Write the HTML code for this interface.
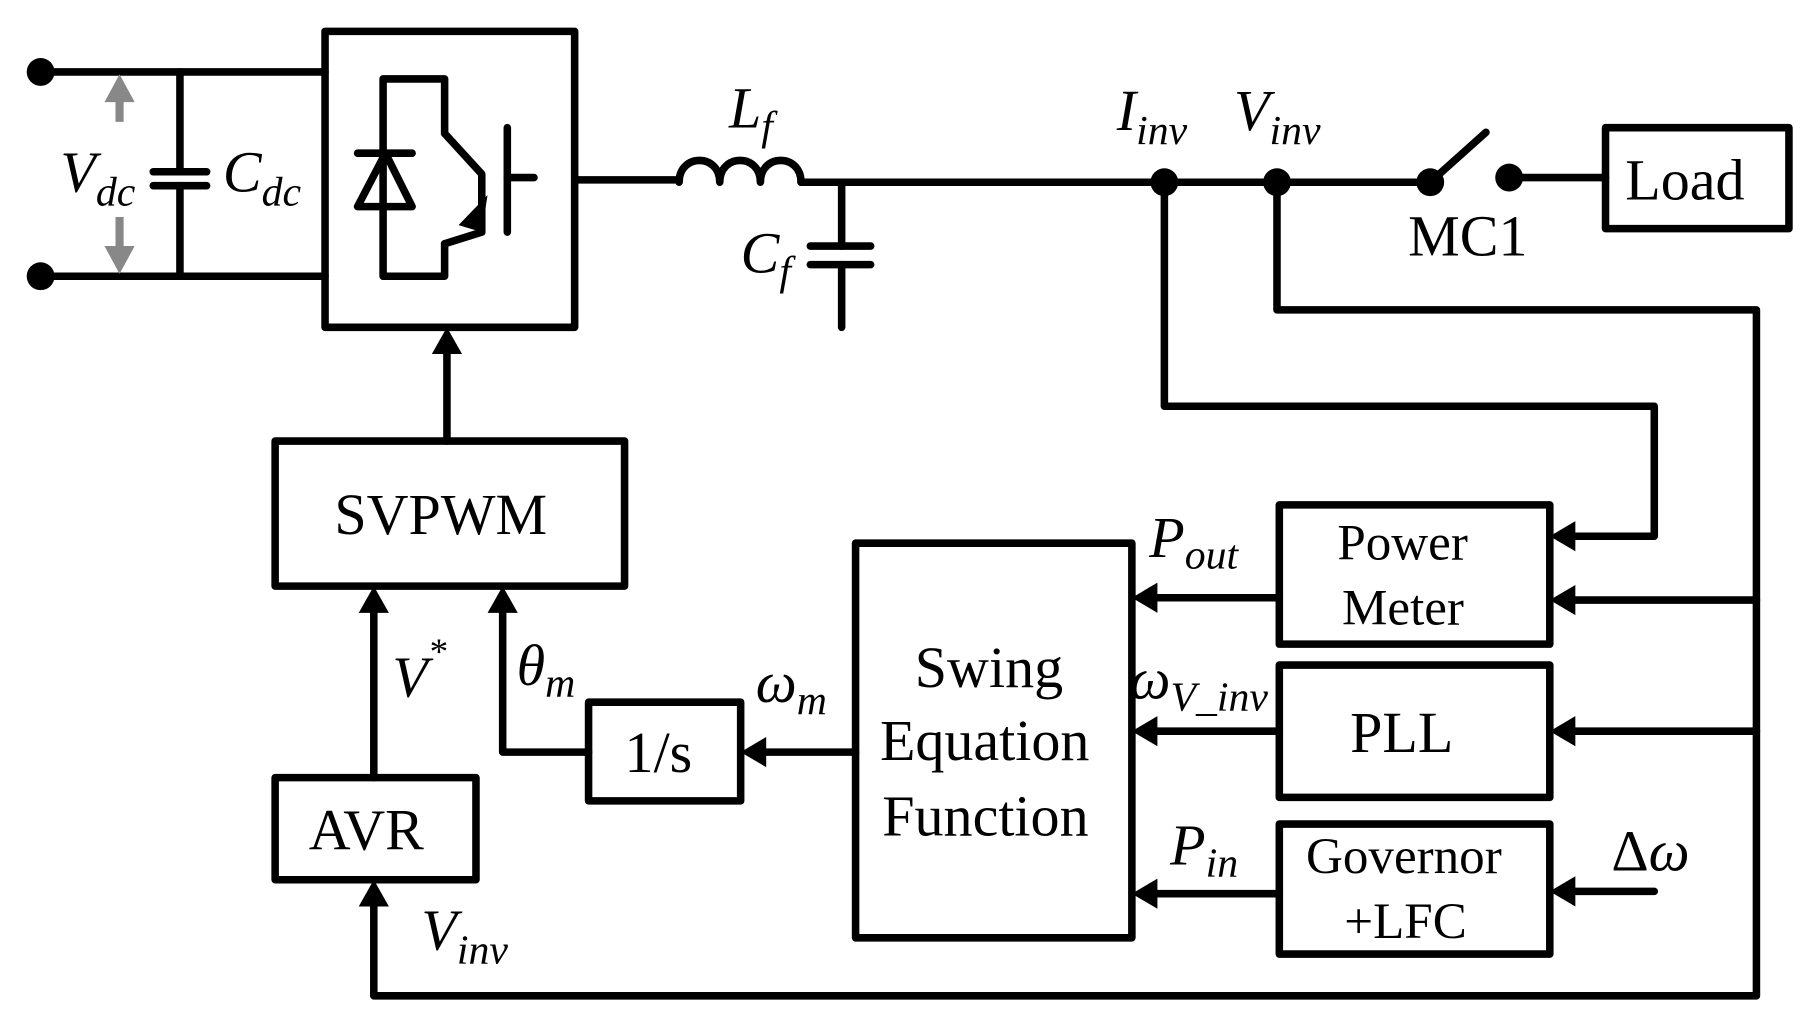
<!DOCTYPE html>
<html><head><style>
html,body{margin:0;padding:0;background:#fff;}
svg{display:block;}
text{font-family:"Liberation Serif",serif;fill:#000;}
.i{font-style:italic;}
</style></head><body>
<svg width="1811" height="1026" viewBox="0 0 1560 884" preserveAspectRatio="none">
<g stroke="#000" stroke-width="6.5" fill="none" stroke-linejoin="round" stroke-linecap="round">
<line x1="35" y1="62" x2="280" y2="62"/>
<line x1="35" y1="238" x2="280" y2="238"/>
<line x1="155" y1="62" x2="155" y2="148"/>
<line x1="155" y1="160" x2="155" y2="238"/>
<line x1="132" y1="148" x2="178" y2="148"/>
<line x1="132" y1="160" x2="178" y2="160"/>
<rect x="280" y="27" width="215" height="255"/>
<polyline points="383,115 383,68 330,68 330,238 383,238 383,210"/>
<polyline points="383,115 415,150 415,200 383,210"/>
<line x1="437" y1="110" x2="437" y2="200"/>
<line x1="437" y1="153" x2="460" y2="153"/>
<line x1="308" y1="132" x2="355" y2="132"/>
<path d="M308,178 L355,178 L332,132 Z"/>
<line x1="495" y1="155" x2="585" y2="155"/>
<path d="M585,157 C585,132 620,132 620,157 C620,132 655,132 655,157 C655,132 690,132 690,157"/>
<line x1="690" y1="157" x2="1225" y2="157"/>
<line x1="725" y1="157" x2="725" y2="212"/>
<line x1="725" y1="228" x2="725" y2="282"/>
<line x1="698" y1="212" x2="750" y2="212"/>
<line x1="698" y1="228" x2="750" y2="228"/>
<line x1="1232" y1="157" x2="1280" y2="114"/>
<line x1="1300" y1="153" x2="1383" y2="153"/>
<rect x="1383" y="110" width="158" height="87"/>
<polyline points="1100,155 1100,267 1513,267 1513,858 322,858 322,775"/>
<polyline points="1003,155 1003,350 1425,350 1425,462 1350,462"/>
<line x1="1513" y1="517" x2="1350" y2="517"/>
<line x1="1513" y1="630" x2="1350" y2="630"/>
<line x1="1425" y1="768" x2="1350" y2="768"/>
<rect x="1102" y="435" width="233" height="120"/>
<rect x="1102" y="573" width="233" height="114"/>
<rect x="1102" y="710" width="233" height="112"/>
<rect x="737" y="468" width="238" height="340"/>
<rect x="507" y="605" width="131" height="85"/>
<rect x="237" y="380" width="301" height="125"/>
<rect x="237" y="670" width="173" height="88"/>
<line x1="1102" y1="515" x2="990" y2="515"/>
<line x1="1102" y1="630" x2="990" y2="630"/>
<line x1="1102" y1="770" x2="990" y2="770"/>
<line x1="737" y1="648" x2="652" y2="648"/>
<polyline points="507,648 433,648 433,520"/>
<line x1="322" y1="670" x2="322" y2="520"/>
<line x1="385" y1="380" x2="385" y2="297"/>
</g>
<g fill="#000">
<circle cx="35" cy="62" r="12"/><circle cx="35" cy="238" r="12"/>
<circle cx="1003" cy="157" r="12"/><circle cx="1100" cy="157" r="12"/>
<circle cx="1232" cy="157" r="12"/><circle cx="1300" cy="153" r="12"/>
<path d="M395,194 L420,168 L415,200 Z"/>
<path d="M1335,462 l22,-13 l0,26 Z"/>
<path d="M1335,517 l22,-13 l0,26 Z"/>
<path d="M1335,630 l22,-13 l0,26 Z"/>
<path d="M1335,768 l22,-13 l0,26 Z"/>
<path d="M975,515 l22,-13 l0,26 Z"/>
<path d="M975,630 l22,-13 l0,26 Z"/>
<path d="M975,770 l22,-13 l0,26 Z"/>
<path d="M638,648 l22,-13 l0,26 Z"/>
<path d="M433,505 l-13,23 l26,0 Z"/>
<path d="M322,505 l-13,23 l26,0 Z"/>
<path d="M322,758 l-13,23 l26,0 Z"/>
<path d="M385,282 l-13,23 l26,0 Z"/>
</g>
<g stroke="#888" stroke-width="7" fill="#888">
<line x1="103" y1="105" x2="103" y2="85"/>
<path d="M103,64 l-13,24 l26,0 Z" stroke="none"/>
<line x1="103" y1="187" x2="103" y2="212"/>
<path d="M103,236 l-13,-24 l26,0 Z" stroke="none"/>
</g>
<g font-size="50">
<text x="52" y="165" class="i">V<tspan font-size="36" dy="12">dc</tspan></text>
<text x="192" y="165" class="i">C<tspan font-size="36" dy="12">dc</tspan></text>
<text x="628" y="110" class="i">L<tspan font-size="36" dy="10">f</tspan></text>
<text x="638" y="235" class="i">C<tspan font-size="36" dy="10">f</tspan></text>
<text x="962" y="112" class="i">I<tspan font-size="36" dy="12">inv</tspan></text>
<text x="1063" y="112" class="i">V<tspan font-size="36" dy="12">inv</tspan></text>
<text x="1213" y="220">MC1</text>
<text x="1400" y="172">Load</text>
<text x="1152" y="482" font-size="44">Power</text>
<text x="1156" y="538" font-size="44">Meter</text>
<text x="1163" y="648">PLL</text>
<text x="1125" y="752" font-size="44">Governor</text>
<text x="1158" y="808" font-size="44">+LFC</text>
<text x="788" y="592">Swing</text>
<text x="758" y="655">Equation</text>
<text x="760" y="720">Function</text>
<text x="538" y="665">1/s</text>
<text x="288" y="460">SVPWM</text>
<text x="266" y="732">AVR</text>
<text x="990" y="480" class="i">P<tspan font-size="36" dy="10">out</tspan></text>
<text x="973" y="602" class="i">ω<tspan font-size="36" dy="10">V_inv</tspan></text>
<text x="1008" y="745" class="i">P<tspan font-size="36" dy="10">in</tspan></text>
<text x="1388" y="750">Δ<tspan class="i">ω</tspan></text>
<text x="651" y="605" class="i">ω<tspan font-size="36" dy="10">m</tspan></text>
<text x="445" y="590" class="i">θ<tspan font-size="36" dy="10">m</tspan></text>
<text x="338" y="600" class="i">V<tspan font-size="32" dy="-28">*</tspan></text>
<text x="363" y="818" class="i">V<tspan font-size="36" dy="12">inv</tspan></text>
</g>
</svg>
</body></html>
